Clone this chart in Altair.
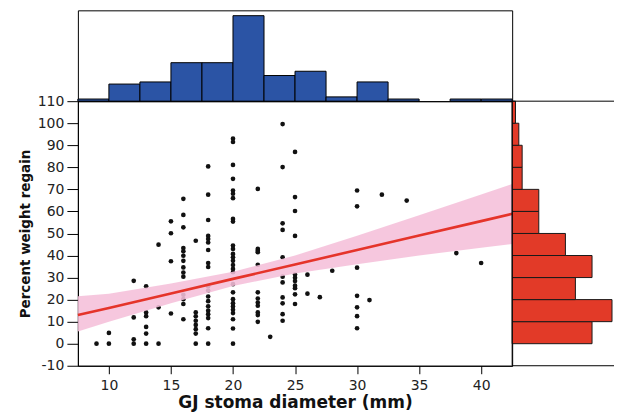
import altair as alt
import pandas as pd

# ---- scatter data: GJ stoma diameter (mm) vs percent weight regain ----
diameter = (
    [9]
    + [10] * 2
    + [12] * 4
    + [13] * 6
    + [14] * 3
    + [15] * 4
    + [16] * 14
    + [17] * 8
    + [18] * 19
    + [20] * 27
    + [22] * 12
    + [23]
    + [24] * 11
    + [25] * 11
    + [26] * 2
    + [27]
    + [28]
    + [30] * 7
    + [31]
    + [32]
    + [34]
    + [38]
    + [40]
)
regain = (
    [0]
    + [0, 4.9]
    + [28.5, 11.9, 2.0, 0]
    + [26.0, 14.2, 12.5, 7.6, 4.6, 0]
    + [44.9, 16.5, 0]
    + [55.5, 50.1, 37.4, 13.7]
    + [65.7, 58.4, 52.8, 43.4, 41.9, 39.9, 37.6, 34.6, 32.3, 30.4, 22.2, 20.2, 18.0, 11.1]
    + [46.7, 14.2, 12.4, 10.4, 8.5, 6.6, 4.6, 0]
    + [80.4, 67.6, 56.1, 48.9, 47.5, 45.9, 42.5, 36.6, 34.8, 26.1, 24.1, 21.4, 19.3,
       17.0, 15.0, 13.4, 11.6, 7.0, 0]
    + [93.0, 91.5, 81.1, 74.8, 69.5, 68.0, 66.0, 56.6, 55.4, 44.5, 43.0, 40.7, 39.2,
       37.6, 35.7, 33.9, 32.4, 27.0, 23.3, 20.2, 18.4, 16.9, 15.4, 13.9, 11.1, 6.9, 0]
    + [70.2, 43.0, 42.2, 41.5, 35.8, 23.3, 20.5, 18.7, 17.2, 14.2, 13.0, 9.9]
    + [3.1]
    + [99.6, 80.1, 54.6, 51.6, 39.2, 30.4, 27.8, 21.0, 18.3, 13.4, 10.4]
    + [87.0, 66.5, 60.2, 48.9, 31.4, 29.9, 28.4, 26.3, 25.2, 22.4, 18.0]
    + [31.3, 22.7]
    + [21.1]
    + [33.1]
    + [69.5, 62.3, 34.5, 21.7, 16.5, 12.5, 7.0]
    + [19.8]
    + [67.6]
    + [64.9]
    + [41.1]
    + [36.6]
)

# ---- regression line and its confidence band ----
fit_x = [7.5, 10, 15, 20, 25, 30, 35, 40, 42.5]
fit_y = [13.0, 16.2, 22.8, 29.4, 35.9, 42.5, 49.1, 55.6, 58.9]
ci_lower = [5.5, 10.0, 18.3, 26.2, 31.8, 36.0, 40.0, 43.5, 45.2]
ci_upper = [21.5, 22.6, 27.3, 32.6, 40.0, 49.0, 58.3, 67.7, 72.4]

# ---- marginal histograms ----
diam_bin_start = [7.5, 10, 12.5, 15, 17.5, 20, 22.5, 25, 27.5, 30, 32.5, 35, 37.5, 40]
diam_counts = [1, 8, 9, 18, 18, 40, 12, 14, 2, 9, 1, 0, 1, 1]
regain_bin_start = [0, 10, 20, 30, 40, 50, 60, 70, 80, 90, 100]
regain_counts = [24, 30, 19, 24, 16, 8, 8, 3, 3, 2, 1]

BLUE = "#2b54a5"
RED_BAR = "#e23a28"
RED_LINE = "#e5342a"
PINK = "#f5bfd9"

W, H = 435, 265
TOP_H = 91
RW = 102

xdom = alt.Scale(domain=[7.5, 42.5], nice=False, zero=False)
ydom = alt.Scale(domain=[-10, 110], nice=False, zero=False)

scatter_df = pd.DataFrame({"diameter": diameter, "regain": regain})
fit_df = pd.DataFrame({"x": fit_x, "fit": fit_y, "lo": ci_lower, "hi": ci_upper})
top_df = pd.DataFrame({"start": diam_bin_start,
                       "end": [s + 2.5 for s in diam_bin_start],
                       "count": diam_counts})
top_df = top_df[top_df["count"] > 0]
right_df = pd.DataFrame({"start": regain_bin_start,
                         "end": [s + 10 for s in regain_bin_start],
                         "count": regain_counts})

# ---- top histogram ----
top = alt.Chart(top_df).mark_rect(color=BLUE, stroke="black", strokeWidth=1).encode(
    x=alt.X("start:Q", scale=xdom, axis=None),
    x2="end:Q",
    y=alt.Y("count:Q", scale=alt.Scale(domain=[0, 42.5], nice=False), axis=None),
    y2=alt.datum(0),
).properties(width=W, height=TOP_H)

# ---- main scatter ----
minus_fix = "datum.value < 0 ? '-' + abs(datum.value) : '' + datum.value"
x_axis = alt.Axis(values=[10, 15, 20, 25, 30, 35, 40], title="GJ stoma diameter (mm)",
                  tickSize=8, labelPadding=5, labelFontSize=14, labelOverlap=False,
                  titleFontSize=17, titleFontWeight="bold", titlePadding=2, grid=False)
y_axis = alt.Axis(values=list(range(-10, 111, 10)), title="Percent weight regain",
                  tickSize=11, labelPadding=3, labelFontSize=14, labelOverlap=False,
                  labelExpr=minus_fix,
                  titleFontSize=13.5, titleFontWeight="bold", titlePadding=5, grid=False)

points = alt.Chart(scatter_df).mark_circle(size=22, color="#111111", opacity=1).encode(
    x=alt.X("diameter:Q", scale=xdom, axis=x_axis),
    y=alt.Y("regain:Q", scale=ydom, axis=y_axis),
)
band = alt.Chart(fit_df).mark_area(color=PINK, opacity=0.88).encode(
    x=alt.X("x:Q", scale=xdom, axis=x_axis),
    y=alt.Y("lo:Q", scale=ydom, axis=y_axis),
    y2="hi:Q",
)
line = alt.Chart(fit_df).mark_line(color=RED_LINE, strokeWidth=2.6).encode(
    x=alt.X("x:Q", scale=xdom, axis=x_axis),
    y=alt.Y("fit:Q", scale=ydom, axis=y_axis),
)
main = alt.layer(points, band, line).properties(width=W, height=H)

# ---- right histogram ----
rbars = alt.Chart(right_df).mark_rect(color=RED_BAR, stroke="#1a1a1a", strokeWidth=1).encode(
    y=alt.Y("start:Q", scale=ydom, axis=None),
    y2="end:Q",
    x=alt.X("count:Q", scale=alt.Scale(domain=[0, 30.6], nice=False), axis=None),
    x2=alt.datum(0),
)
frame = alt.Chart(pd.DataFrame({"e": [0]})).mark_rule(color="black", strokeWidth=1)
r_top = frame.encode(x=alt.value(0), x2=alt.value(RW), y=alt.value(0))
r_bot = frame.encode(x=alt.value(0), x2=alt.value(RW), y=alt.value(H))
r_left = frame.encode(x=alt.value(0), y=alt.value(0), y2=alt.value(H))
right = alt.layer(rbars, r_top, r_bot, r_left).properties(
    width=RW, height=H, view=alt.ViewBackground(stroke="transparent")
)

row = alt.hconcat(main, right, spacing=0, bounds="flush")
chart = alt.vconcat(top, row, spacing=0, bounds="flush").properties(
    padding={"left": 9, "top": 1, "right": 0, "bottom": 0}
).configure(
    font="DejaVu Sans"
).configure_view(
    stroke="black", strokeWidth=1
).configure_axis(
    domainColor="black", tickColor="black", labelColor="#222222", titleColor="#111111",
    labelFont="DejaVu Sans", titleFont="DejaVu Sans", labelOverlap=False
)

chart.save("out.html", embed_options={"renderer": "svg", "actions": False})
